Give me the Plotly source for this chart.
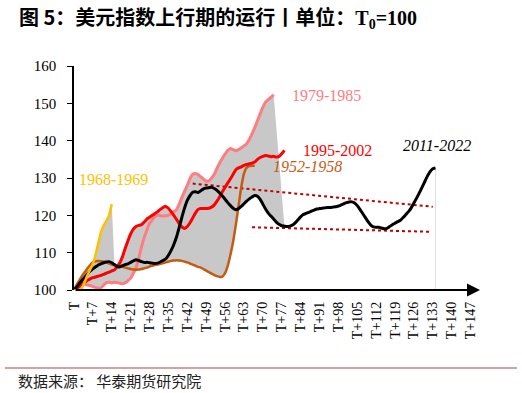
import plotly.graph_objects as go

# ---------------- data (monthly, T0 = 100) ----------------
yellow_1968 = [100, 99.7, 99.6, 100.6, 102.2, 104.0, 105.5, 107.0, 109.5, 112.5, 115.5, 117.3, 118.5, 120.0, 123.0]

pink_1979 = [100, 100.5, 101.2, 101.6, 101.5, 101.3, 101.2, 100.9, 100.7, 100.5,
             100.6, 101.3, 102.0, 102.1, 101.9, 102.1, 102.0, 101.8, 101.7, 101.9,
             102.5, 103.2, 104.5, 106.0, 108.5, 111.5, 114.0, 116.0, 117.8, 118.8,
             119.7, 120.0, 119.9, 119.8, 119.9, 120.0, 120.5, 121.0, 121.5, 123.0,
             124.8, 126.5, 128.0, 129.8, 131.0, 131.2, 130.9, 130.3, 129.7, 129.2,
             129.2, 130.0, 131.0, 132.6, 134.0, 135.3, 136.4, 137.4, 137.9, 137.6,
             137.3, 137.6, 138.1, 138.6, 139.2, 140.3, 141.8, 143.5, 145.3, 147.2,
             148.9, 150.3, 151.0, 151.6, 152.3]

red_1995 = [100, 100.4, 101.0, 101.6, 102.1, 102.6, 103.0, 103.3, 103.5, 103.7,
            103.9, 104.2, 104.5, 104.8, 105.1, 105.4, 106.3, 107.3, 109.0, 111.2,
            113.2, 115.0, 116.3, 117.0, 117.3, 117.5, 118.2, 119.0, 119.5, 120.0,
            120.5, 121.0, 121.6, 122.1, 122.4, 121.9, 121.0, 120.0, 118.9, 117.8,
            116.9, 116.5, 117.0, 118.0, 119.3, 120.6, 121.6, 121.8, 121.8, 121.8,
            121.9, 122.2, 122.8, 123.8, 125.0, 126.3, 127.5, 128.7, 129.8, 131.0,
            132.2, 132.7, 133.0, 133.4, 133.6, 133.8, 134.0, 134.3, 135.0, 135.5,
            135.8, 136.0, 135.9, 135.7, 135.8, 135.6, 135.8, 136.5, 137.4]

orange_1952 = [100, 101.4, 102.6, 103.8, 104.8, 105.8, 106.7, 107.4, 107.7, 107.8,
               107.7, 107.6, 107.4, 107.1, 106.8, 106.6, 106.4, 106.3, 106.2, 106.0,
               105.8, 105.6, 105.5, 105.4, 105.5, 105.6, 105.8, 106.0, 106.3, 106.5,
               106.7, 106.8, 107.0, 107.2, 107.4, 107.6, 107.8, 107.9, 108.0, 107.9,
               107.8, 107.6, 107.4, 107.1, 106.8, 106.5, 106.2, 106.0, 105.6, 105.2,
               104.8, 104.4, 104.0, 103.7, 103.5, 103.6, 104.5, 106.5, 109.5, 113.0,
               117.5, 122.5, 127.5, 131.2, 132.8, 133.2, 133.3, 133.3]

black_2011 = [100, 100.8, 101.7, 102.6, 103.4, 104.3, 105.1, 105.7, 106.2, 106.7,
              107.0, 107.3, 107.5, 107.6, 107.3, 106.8, 106.3, 106.2, 106.5, 106.8,
              107.0, 107.4, 107.8, 108.1, 107.9, 107.6, 107.4, 107.4, 107.3, 107.2,
              107.1, 107.2, 107.5, 107.9, 108.3, 109.3, 110.6, 112.2, 114.2, 116.8,
              119.5, 122.0, 124.0, 125.3, 126.2, 126.3, 126.1, 126.6, 127.1, 127.3,
              127.4, 127.5, 127.2, 126.7, 126.0, 125.2, 124.3, 123.4, 122.6, 121.9,
              121.5, 121.8, 122.4, 123.1, 123.8, 124.4, 124.9, 125.3, 125.1, 124.3,
              123.0, 121.7, 120.6, 119.8, 119.0, 118.2, 117.6, 117.2, 117.1, 117.0,
              117.1, 117.4, 118.0, 118.8, 119.6, 120.2, 120.5, 120.8, 121.1, 121.4,
              121.7, 121.8, 121.9, 122.0, 122.1, 122.1, 122.2, 122.3, 122.5, 122.8,
              123.1, 123.4, 123.6, 123.6, 123.3, 122.6, 121.6, 120.5, 119.4, 118.3,
              117.4, 116.9, 116.8, 116.8, 116.6, 116.4, 116.5, 117.0, 117.5, 117.9,
              118.3, 118.7, 119.4, 120.2, 121.0, 122.0, 123.3, 124.6, 126.0, 127.5,
              129.0, 130.5, 131.7, 132.5, 132.7]

# trend (dotted) lines: [t_start, t_end], [value_start, value_end]
upper_trend_t = [44, 133]
upper_trend_v = [128.5, 122.3]
lower_trend_t = [66, 132]
lower_trend_v = [116.8, 115.6]

tick_vals = list(range(0, 148, 7))
tick_text = ["T"] + [f"T+{v}" for v in tick_vals[1:]]

# ---------------- layout geometry ----------------
W, H = 522, 393
ML, MR, MT, MB = 74, 42, 66, 103
PW, PH = W - ML - MR, H - MT - MB


def px_x(px):
    return (px - ML) / PW


def px_y(py):
    return (H - MB - py) / PH


SERIF = "Liberation Serif"
CJK = "Noto Sans CJK SC"

fig = go.Figure()

# ---------------- grey envelope ----------------
series_all = [yellow_1968, pink_1979, red_1995, orange_1952, black_2011]
env_t, env_hi, env_lo = [], [], []
for t in range(len(pink_1979)):
    vals = [s[t] for s in series_all if t < len(s)]
    env_t.append(t)
    env_hi.append(max(vals))
    env_lo.append(min(vals))
t_close = len(red_1995) - 1
poly_x = env_t + [t_close] + env_t[::-1]
poly_y = env_hi + [black_2011[t_close]] + env_lo[::-1]
fig.add_trace(go.Scatter(x=poly_x, y=poly_y, fill="toself", fillcolor="#C8C8C8",
                         line=dict(width=0), mode="lines", hoverinfo="skip"))

# faint vertical line at end of 2011-2022
t_end = len(black_2011) - 1
fig.add_trace(go.Scatter(x=[t_end, t_end], y=[100, black_2011[-1]], mode="lines",
                         line=dict(color="#E0E0E0", width=1)))

# dotted trend lines
for tt, vv in [(upper_trend_t, upper_trend_v), (lower_trend_t, lower_trend_v)]:
    fig.add_trace(go.Scatter(x=tt, y=vv, mode="lines",
                             line=dict(color="#C00000", width=2, dash="dot")))


def add_series(vals, color, width):
    fig.add_trace(go.Scatter(x=list(range(len(vals))), y=vals, mode="lines",
                             line=dict(color=color, width=width, shape="spline", smoothing=0.5)))


add_series(pink_1979, "#FF7C80", 3)
add_series(orange_1952, "#C55A11", 2.5)
add_series(red_1995, "#FF0000", 3)
add_series(black_2011, "#000000", 3)
add_series(yellow_1968, "#FFC000", 2.5)

# ---------------- series labels ----------------
labels = [
    ("1968-1969", 14.6, 129.5, "#FFC000", False),
    ("1979-1985", 93.5, 152.1, "#FF7C80", False),
    ("1995-2002", 97.8, 137.3, "#FF0000", False),
    ("1952-1958", 86.7, 133.1, "#C55A11", True),
    ("2011-2022", 134.5, 138.6, "#000000", True),
]
for txt, lx, ly, col, ital in labels:
    fig.add_annotation(x=lx, y=ly, xref="x", yref="y", text=f"<i>{txt}</i>" if ital else txt,
                       showarrow=False, xanchor="center", yanchor="middle",
                       font=dict(family=SERIF, size=16, color=col))

# x axis line with arrow
fig.add_annotation(x=150.5, y=100, ax=0, ay=100, xref="x", yref="y", axref="x", ayref="y",
                   text="", showarrow=True, arrowhead=2, arrowsize=1.3, arrowwidth=2,
                   arrowcolor="#000000")

# title
fig.add_annotation(x=px_x(17), y=px_y(17), xref="paper", yref="paper", xanchor="left",
                   yanchor="middle", showarrow=False,
                   text="<b>图 5：美元指数上行期的运行丨单位：<span style=\"font-family:'Liberation Serif'\">T<sub>0</sub>=100</span></b>",
                   font=dict(family=CJK, size=20, color="#000000"))

# source
fig.add_annotation(x=px_x(16), y=px_y(380), xref="paper", yref="paper", xanchor="left",
                   yanchor="middle", showarrow=False, text="数据来源： 华泰期货研究院",
                   font=dict(family=CJK, size=15, color="#222222"))

# separator line
fig.add_shape(type="line", xref="paper", yref="paper", x0=px_x(5), x1=px_x(517),
              y0=px_y(368), y1=px_y(368), line=dict(color="#CC8080", width=1.5))

fig.update_layout(
    width=W, height=H, margin=dict(l=ML, r=MR, t=MT, b=MB),
    paper_bgcolor="white", plot_bgcolor="white", showlegend=False,
    xaxis=dict(range=[0, 150.5], tickvals=tick_vals, ticktext=tick_text, tickangle=-90,
               showgrid=False, zeroline=False, showline=False, ticks="",
               ticklabelstandoff=8,
               tickfont=dict(family=SERIF, size=14, color="#000000")),
    yaxis=dict(range=[100, 160], dtick=10, tick0=100, showgrid=False, zeroline=False,
               showline=True, linecolor="#000000", linewidth=1.5, ticks="outside",
               ticklen=5, tickcolor="#000000", tickwidth=1, ticklabelstandoff=8,
               tickfont=dict(family=SERIF, size=15, color="#000000")),
)

fig.write_html("out.html", config={"displayModeBar": False},
               post_script="document.body.style.margin='0';document.body.style.overflow='hidden';")
